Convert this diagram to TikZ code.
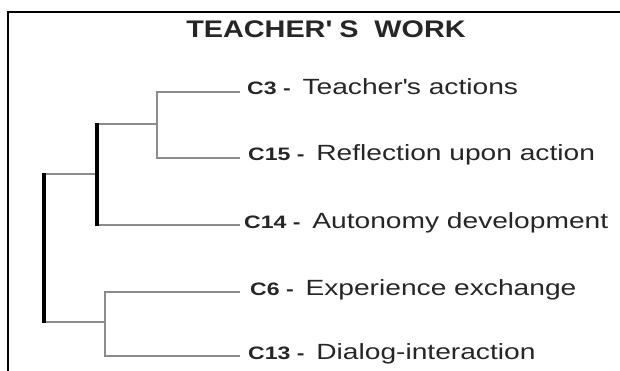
\documentclass[tikz,border=0pt]{standalone}
\usepackage{fontspec}
\setmainfont{Liberation Sans}[FakeStretch=1.28]
\newfontfamily\headfont{Liberation Sans}[FakeStretch=1.2]
\usetikzlibrary{positioning}

\begin{document}
\begin{tikzpicture}[x=1pt,y=-1pt,
    branch/.style={draw=black!45, line width=1.8pt},
    stem/.style={draw=black, line width=4.5pt},
    leaf/.style={anchor=base west, inner sep=0pt, text=black!85, font=\fontsize{22}{24}\selectfont}]
            % Same Bounding Box
            \useasboundingbox (0,0) rectangle (620,371);

            \newcommand{\cname}[1]{{\bfseries\fontsize{18}{20}\selectfont #1 -}\hspace{4pt}}

            % Frame and title
            \draw[line width=2.4pt] (8,371) -- (8,12) -- (620,12);
            \node[font=\headfont\bfseries\fontsize{24}{26}\selectfont, text=black!85] (title) at (326,29) {TEACHER\textquotesingle\ S\ \ WORK};

            % Leaf ends and joints
            \coordinate (l3)  at (240,92);
            \coordinate (l15) at (240,158);
            \coordinate (l14) at (240,225);
            \coordinate (l6)  at (240,292);
            \coordinate (l13) at (240,356);
            \coordinate (j1) at (157,124);
            \coordinate (j2) at (97,174);
            \coordinate (j3) at (105,322);
            \coordinate (root) at (44,248);

            % Labels
            \node[leaf] (c3)  at ([xshift=7pt,yshift=-3pt]l3)  {\cname{C3} Teacher\textquotesingle s actions};
            \node[leaf] (c15) at ([xshift=8pt,yshift=-3pt]l15) {\cname{C15} Reflection upon action};
            \node[leaf] (c14) at ([xshift=4pt,yshift=-3pt]l14) {\cname{C14} Autonomy development};
            \node[leaf] (c6)  at ([xshift=10pt,yshift=-3pt]l6) {\cname{C6} Experience exchange};
            \node[leaf] (c13) at ([xshift=8pt,yshift=-3pt]l13) {\cname{C13} Dialog-interaction};

            % Thin branches
            \draw[branch] (l3) -| (j1) |- (l15);
            \draw[branch] (j1) -- (j1 -| j2);
            \draw[branch] (j2 |- l14) -- (l14);
            \draw[branch] (j2) -- (j2 -| root);
            \draw[branch] (l6) -| (j3) |- (l13);
            \draw[branch] (j3) -- (j3 -| root);

            % Thick stems
            \draw[stem] ([yshift=1pt]j1 -| j2) -- ([yshift=-1pt]l14 -| j2);
            \draw[stem] ([yshift=1pt]j2 -| root) -- ([yshift=-1pt]j3 -| root);
        \end{tikzpicture}
\end{document}
